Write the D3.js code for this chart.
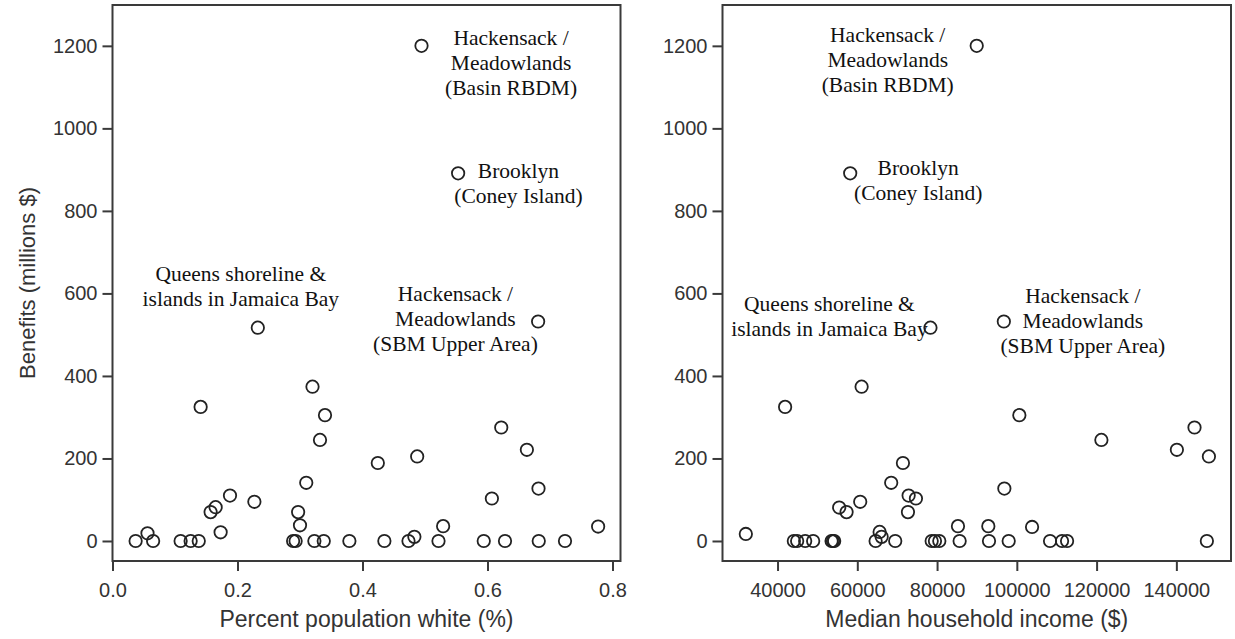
<!DOCTYPE html>
<html>
<head>
<meta charset="utf-8">
<script src="https://cdn.jsdelivr.net/npm/d3@7"></script>
<style>
  html, body { margin: 0; padding: 0; background: #fff; }
  svg { display: block; }
  .tick text { font-family: "Liberation Sans", Arial, sans-serif; font-size: 20px; fill: #333; }
  .axis-title { font-family: "Liberation Sans", Arial, sans-serif; font-size: 23px; fill: #333; }
  .y-title { font-size: 22px; }
  .note { font-family: "Liberation Serif", "Times New Roman", serif; font-size: 21.5px; fill: #111; }
</style>
</head>
<body>
<svg id="chart" width="1235" height="639"></svg>
<script>
// Benefits of each project (millions $) against share of white population
const whiteShare = [0.037, 0.056, 0.065, 0.109, 0.125, 0.138, 0.141, 0.157, 0.165, 0.173,
  0.188, 0.227, 0.289, 0.293, 0.297, 0.300, 0.310, 0.320, 0.340, 0.332,
  0.323, 0.338, 0.379, 0.4245, 0.435, 0.4736, 0.483, 0.4875, 0.5216, 0.529,
  0.594, 0.607, 0.622, 0.628, 0.663, 0.6816, 0.682, 0.724, 0.777];
const whiteBenefits = [0, 18.6, 0, 0, 0, 0, 325, 70, 82, 21,
  110, 95, 0, 0, 70, 38, 141, 374, 305, 245,
  0, 0, 0, 189, 0, 0, 10, 205, 0, 36,
  0, 103, 275, 0, 221, 127, 0, 0, 35];

// Benefits of each project against median household income
const income = [32050, 41900, 44090, 44920, 46930, 48930, 53550, 53900, 54200, 55460,
  57310, 60730, 61080, 64590, 65600, 66100, 68500, 69510, 71440, 72870,
  72700, 74700, 78650, 79470, 80560, 85240, 85660, 92850, 93020, 97960,
  96870, 100630, 103820, 108330, 111340, 112600, 121200, 140130, 144550, 148160,
  147650];
const incomeBenefits = [17, 325, 0, 0, 0, 0, 0, 0, 0, 81,
  70, 95, 374, 0, 22, 10, 141, 0, 189, 110,
  70, 103, 0, 0, 0, 36, 0, 36, 0, 0,
  127, 305, 34, 0, 0, 0, 245, 221, 275, 205,
  0];

// Named projects
const namedProjects = [
  ["Hackensack /", "Meadowlands", "(Basin RBDM)"],
  ["Brooklyn", "(Coney Island)"],
  ["Queens shoreline &", "islands in Jamaica Bay"],
  ["Hackensack /", "Meadowlands", "(SBM Upper Area)"]
];
const namedBenefits = [1200, 891, 517, 532];
const namedWhiteShare = [0.4944, 0.553, 0.2325, 0.681];
const namedIncome = [89940, 58220, 78340, 96740];

const yTicks = [0, 200, 400, 600, 800, 1000, 1200];
const whiteTicks = [0.0, 0.2, 0.4, 0.6, 0.8];
const incomeTicks = [40000, 60000, 80000, 100000, 120000, 140000];

// Label placement (offset of the first baseline from the point, px)
const leftNoteOffsets = [[89.6, -0.7], [60.3, 4.2], [-17, -46.6], [-82.7, -20]];
const rightNoteOffsets = [[-89, -4], [68, 1.7], [-101, -16.3], [79, -18.7]];
const lineHeight = 25;

const svg = d3.select("#chart");
const plotTop = 5, plotBottom = 561;
const y = d3.scaleLinear().domain([-48.5, 1299]).range([plotBottom, plotTop]);

function panel(opts) {
  const x = d3.scaleLinear().domain(opts.xDomain).range([opts.left, opts.right]);
  const g = svg.append("g");

  // frame
  g.append("rect")
    .attr("x", opts.left).attr("y", plotTop)
    .attr("width", opts.right - opts.left).attr("height", plotBottom - plotTop)
    .attr("fill", "none").attr("stroke", "#3a3a3a").attr("stroke-width", 2);

  const xAxis = g.append("g").attr("transform", `translate(0,${plotBottom})`)
    .call(d3.axisBottom(x).tickValues(opts.xTicks).tickFormat(opts.xFormat)
      .tickSize(10).tickPadding(12));
  const yAxis = g.append("g").attr("transform", `translate(${opts.left},0)`)
    .call(d3.axisLeft(y).tickValues(yTicks).tickFormat(d3.format("d"))
      .tickSize(10).tickPadding(5));
  [xAxis, yAxis].forEach(a => {
    a.select(".domain").remove();
    a.selectAll(".tick line").attr("stroke", "#3a3a3a").attr("stroke-width", 2);
  });

  const pts = opts.xs.map((v, i) => [v, opts.ys[i]]);
  g.append("g").selectAll("circle").data(pts).join("circle")
    .attr("cx", d => x(d[0])).attr("cy", d => y(d[1])).attr("r", 6.2)
    .attr("fill", "none").attr("stroke", "#222").attr("stroke-width", 1.8);

  const named = opts.namedX.map((v, i) => ({ x: v, y: namedBenefits[i], lines: namedProjects[i], off: opts.offsets[i] }));
  g.append("g").selectAll("circle").data(named).join("circle")
    .attr("cx", d => x(d.x)).attr("cy", d => y(d.y)).attr("r", 6.2)
    .attr("fill", "none").attr("stroke", "#222").attr("stroke-width", 1.8);

  named.forEach(d => {
    const t = g.append("text").attr("class", "note").attr("text-anchor", "middle");
    d.lines.forEach((line, k) => {
      t.append("tspan")
        .attr("x", x(d.x) + d.off[0])
        .attr("y", y(d.y) + d.off[1] + k * lineHeight)
        .text(line);
    });
  });

  g.append("text").attr("class", "axis-title").attr("text-anchor", "middle")
    .attr("x", (opts.left + opts.right) / 2).attr("y", 627)
    .text(opts.xTitle);
  return g;
}

panel({
  left: 112.5, right: 620.5, xDomain: [0, 0.8128],
  xTicks: whiteTicks, xFormat: d3.format(".1f"),
  xs: whiteShare, ys: whiteBenefits, namedX: namedWhiteShare,
  offsets: leftNoteOffsets, xTitle: "Percent population white (%)"
});
panel({
  left: 722.5, right: 1231, xDomain: [26200, 153700],
  xTicks: incomeTicks, xFormat: d3.format("d"),
  xs: income, ys: incomeBenefits, namedX: namedIncome,
  offsets: rightNoteOffsets, xTitle: "Median household income ($)"
});

svg.append("text").attr("class", "axis-title y-title").attr("text-anchor", "middle")
  .attr("transform", "translate(35,283) rotate(-90)")
  .text("Benefits (millions $)");
</script>
</body>
</html>
